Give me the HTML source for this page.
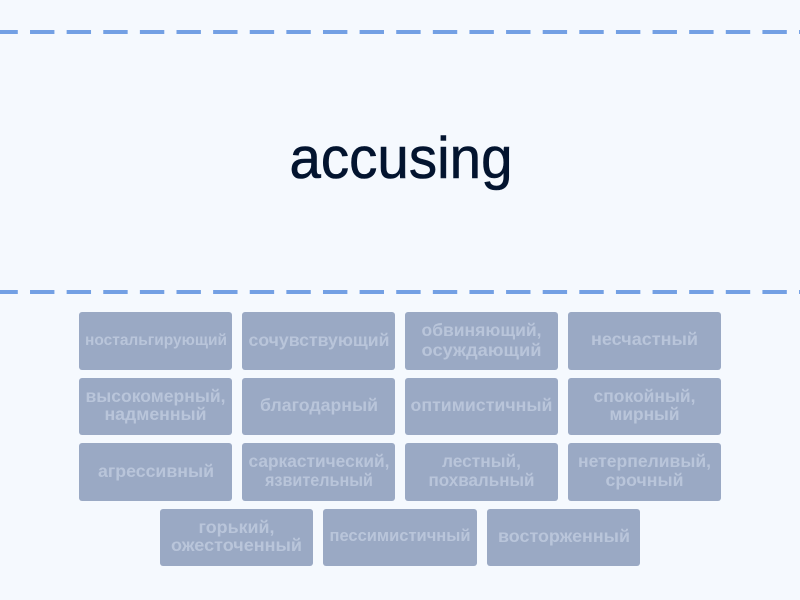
<!DOCTYPE html>
<html><head><meta charset="utf-8"><style>
html,body{margin:0;padding:0;width:800px;height:600px;overflow:hidden;background:#f5f9fe}
svg{display:block}
text{font-family:"Liberation Sans",sans-serif;font-weight:700;fill:#b9c5da;text-anchor:middle}
rect{fill:#9aa9c4}
</style></head><body>
<svg width="800" height="600" viewBox="0 0 800 600" xmlns="http://www.w3.org/2000/svg">
<rect x="0" y="0" width="800" height="600" style="fill:#f5f9fe"/>
<line x1="-6.6" y1="32" x2="800" y2="32" stroke="#73a0e4" stroke-width="4" stroke-dasharray="24.4 12.22"/>
<line x1="-6.6" y1="292" x2="800" y2="292" stroke="#73a0e4" stroke-width="4" stroke-dasharray="24.4 12.22"/>
<text x="401" y="178" font-size="58" textLength="223" lengthAdjust="spacingAndGlyphs" stroke="#03142f" stroke-width="0.6" style="fill:#03142f;font-weight:400">accusing</text>

<rect x="79" y="312" width="153" height="58" rx="3"/>
<rect x="242" y="312" width="153" height="58" rx="3"/>
<rect x="405" y="312" width="153" height="58" rx="3"/>
<rect x="568" y="312" width="153" height="58" rx="3"/>
<rect x="79" y="378" width="153" height="57" rx="3"/>
<rect x="242" y="378" width="153" height="57" rx="3"/>
<rect x="405" y="378" width="153" height="57" rx="3"/>
<rect x="568" y="378" width="153" height="57" rx="3"/>
<rect x="79" y="443" width="153" height="58" rx="3"/>
<rect x="242" y="443" width="153" height="58" rx="3"/>
<rect x="405" y="443" width="153" height="58" rx="3"/>
<rect x="568" y="443" width="153" height="58" rx="3"/>
<rect x="160" y="509" width="153" height="57" rx="3"/>
<rect x="323" y="509" width="154" height="57" rx="3"/>
<rect x="487" y="509" width="153" height="57" rx="3"/>

<text x="156" y="345" font-size="15.500" textLength="142" lengthAdjust="spacingAndGlyphs">ностальгирующий</text>
<text x="319" y="346" font-size="17.500" textLength="141" lengthAdjust="spacingAndGlyphs">сочувствующий</text>
<text x="481.500" y="336" font-size="17.500" textLength="120" lengthAdjust="spacingAndGlyphs">обвиняющий,</text>
<text x="481.500" y="356" font-size="17.500" textLength="120" lengthAdjust="spacingAndGlyphs">осуждающий</text>
<text x="644.500" y="345" font-size="17.500" textLength="107" lengthAdjust="spacingAndGlyphs">несчастный</text>

<text x="155.500" y="402" font-size="17.500" textLength="140" lengthAdjust="spacingAndGlyphs">высокомерный,</text>
<text x="155.500" y="420" font-size="17.500" textLength="102" lengthAdjust="spacingAndGlyphs">надменный</text>
<text x="319" y="411" font-size="17.500" textLength="118" lengthAdjust="spacingAndGlyphs">благодарный</text>
<text x="481.500" y="411" font-size="17.500" textLength="142" lengthAdjust="spacingAndGlyphs">оптимистичный</text>
<text x="644.500" y="402" font-size="17.500" textLength="102" lengthAdjust="spacingAndGlyphs">спокойный,</text>
<text x="644.500" y="420" font-size="17.500" textLength="70" lengthAdjust="spacingAndGlyphs">мирный</text>

<text x="156" y="477" font-size="17.500" textLength="116" lengthAdjust="spacingAndGlyphs">агрессивный</text>
<text x="319" y="467" font-size="17.500" textLength="141" lengthAdjust="spacingAndGlyphs">саркастический,</text>
<text x="319" y="486" font-size="17.500" textLength="108" lengthAdjust="spacingAndGlyphs">язвительный</text>
<text x="481.500" y="467" font-size="17.500" textLength="79" lengthAdjust="spacingAndGlyphs">лестный,</text>
<text x="481.500" y="486" font-size="17.500" textLength="106" lengthAdjust="spacingAndGlyphs">похвальный</text>
<text x="644.500" y="467" font-size="17.500" textLength="133" lengthAdjust="spacingAndGlyphs">нетерпеливый,</text>
<text x="644.500" y="486" font-size="17.500" textLength="78" lengthAdjust="spacingAndGlyphs">срочный</text>

<text x="236.500" y="533" font-size="17.500" textLength="76" lengthAdjust="spacingAndGlyphs">горький,</text>
<text x="236.500" y="551" font-size="17.500" textLength="131" lengthAdjust="spacingAndGlyphs">ожесточенный</text>
<text x="400" y="541" font-size="16.500" textLength="141" lengthAdjust="spacingAndGlyphs">пессимистичный</text>
<text x="564" y="542" font-size="17.500" textLength="132" lengthAdjust="spacingAndGlyphs">восторженный</text>
</svg>
</body></html>
